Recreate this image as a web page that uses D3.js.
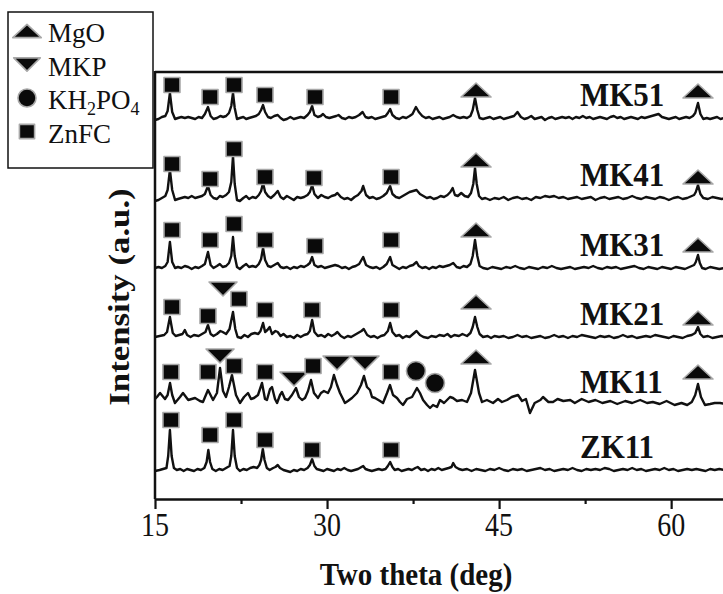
<!DOCTYPE html>
<html>
<head>
<meta charset="utf-8">
<script src="https://cdn.jsdelivr.net/npm/d3@7/dist/d3.min.js"></script>
<style>
  body { margin: 0; background: #fff; }
  svg { display: block; }
  text { font-family: "Liberation Serif", "Times New Roman", serif; fill: #111; }
</style>
</head>
<body>
<div id="chart"></div>
<script>
// sample names, top to bottom, and their stacking offsets (intensity units)
const sampleNames = ["MK51", "MK41", "MK31", "MK21", "MK11", "ZK11"];
const offsets = [381, 301, 231, 162, 94, 29];

// traces: [two theta, intensity above own baseline]
const mk51 = [[15.0,-2],[15.3,-1],[15.6,1],[15.9,2],[16.1,7],[16.3,25],[16.5,6],[16.75,-1],[17.0,0],[17.3,1],[17.6,0],[17.9,1],[18.2,0],[18.5,-1],[18.8,1],[19.1,0],[19.35,4],[19.62,11],[19.85,2],[20.1,-1],[20.4,0],[20.7,2],[20.95,1],[21.2,2],[21.45,5],[21.65,12],[21.8,25],[21.95,10],[22.15,-1],[22.4,0],[22.7,1],[22.95,-1],[23.2,0],[23.5,1],[23.8,2],[24.05,4],[24.25,8],[24.42,13],[24.6,6],[24.85,1],[25.1,0],[25.4,2],[25.7,3],[25.95,0],[26.2,-2],[26.5,-1],[26.8,1],[27.1,-1],[27.4,0],[27.7,1],[28.0,0],[28.3,3],[28.5,6],[28.7,12],[28.9,3],[29.2,1],[29.45,2],[29.65,4],[29.9,1],[30.2,0],[30.5,1],[30.8,2],[31.0,3],[31.3,0],[31.6,-1],[31.9,1],[32.2,0],[32.5,1],[32.8,3],[33.1,6],[33.35,1],[33.6,0],[33.9,1],[34.2,-1],[34.5,0],[34.8,1],[35.1,2],[35.3,5],[35.5,9],[35.7,3],[36.0,0],[36.3,-1],[36.6,1],[36.9,0],[37.2,2],[37.45,4],[37.75,11],[38.0,6],[38.3,2],[38.6,0],[38.9,1],[39.2,-1],[39.5,0],[39.8,1],[40.1,-1],[40.4,0],[40.7,1],[41.0,3],[41.3,1],[41.6,0],[41.9,1],[42.2,0],[42.5,2],[42.7,8],[42.9,20],[43.1,8],[43.3,0],[43.6,-1],[43.9,0],[44.2,1],[44.5,-1],[44.8,0],[45.1,1],[45.4,-1],[45.7,0],[46.0,1],[46.3,2],[46.6,6],[46.9,1],[47.2,-1],[47.5,0],[47.8,2],[48.1,-1],[48.4,0],[48.7,1],[49.0,-2],[49.3,0],[49.6,1],[49.9,-1],[50.2,0],[50.5,1],[50.8,0],[51.1,1],[51.4,-1],[51.7,1],[52.0,0],[52.3,2],[52.6,0],[52.9,1],[53.2,-1],[53.5,0],[53.8,1],[54.1,0],[54.4,-1],[54.7,1],[55.0,2],[55.3,0],[55.6,1],[55.9,-1],[56.2,0],[56.5,1],[56.8,0],[57.1,-1],[57.4,1],[57.7,0],[58.0,1],[58.3,2],[58.6,3],[58.9,4],[59.2,1],[59.5,0],[59.8,-1],[60.1,0],[60.4,1],[60.7,-1],[61.0,0],[61.3,1],[61.6,0],[61.9,2],[62.1,5],[62.34,15],[62.55,4],[62.8,-1],[63.1,0],[63.4,-1],[63.7,0],[64.0,1],[64.3,-1],[64.6,0],[65.0,0]];

const mk41 = [[15.0,-3],[15.3,-2],[15.6,0],[15.9,2],[16.1,8],[16.3,28],[16.5,8],[16.75,-2],[17.0,-1],[17.3,0],[17.6,1],[17.9,0],[18.2,2],[18.5,0],[18.8,1],[19.1,2],[19.35,4],[19.62,12],[19.85,3],[20.1,0],[20.4,-1],[20.65,2],[20.9,1],[21.2,3],[21.45,6],[21.65,16],[21.8,42],[21.95,14],[22.15,-2],[22.4,-3],[22.7,0],[22.95,2],[23.2,-1],[23.5,1],[23.8,0],[24.05,3],[24.25,7],[24.42,15],[24.6,6],[24.85,2],[25.1,0],[25.4,3],[25.7,7],[25.95,1],[26.2,-1],[26.5,2],[26.8,0],[27.1,-2],[27.4,1],[27.7,0],[28.0,1],[28.3,3],[28.5,6],[28.7,13],[28.9,4],[29.2,0],[29.5,3],[29.8,1],[30.1,0],[30.4,2],[30.7,3],[30.9,5],[31.2,1],[31.5,-1],[31.8,0],[32.1,-2],[32.4,1],[32.7,3],[33.0,7],[33.15,12],[33.4,3],[33.7,0],[34.0,1],[34.3,-1],[34.6,0],[34.9,2],[35.2,5],[35.5,12],[35.7,4],[36.0,1],[36.3,0],[36.6,2],[36.9,4],[37.2,6],[37.5,7],[37.8,8],[38.1,4],[38.4,2],[38.7,0],[39.0,1],[39.3,-1],[39.6,0],[39.9,2],[40.2,1],[40.5,3],[40.75,6],[40.95,10],[41.15,3],[41.4,2],[41.7,5],[42.0,2],[42.3,1],[42.55,5],[42.75,14],[42.9,30],[43.05,14],[43.25,2],[43.5,-1],[43.8,0],[44.2,-2],[44.6,0],[45.0,-1],[45.4,1],[45.8,-2],[46.2,0],[46.6,1],[47.0,-1],[47.4,0],[47.8,-2],[48.2,1],[48.6,0],[49.0,2],[49.4,1],[49.8,2],[50.2,0],[50.6,1],[51.0,-1],[51.4,0],[51.8,1],[52.2,-1],[52.6,0],[53.0,1],[53.4,-2],[53.8,0],[54.2,1],[54.6,-1],[55.0,0],[55.4,1],[55.8,-1],[56.2,0],[56.6,2],[57.0,0],[57.4,-1],[57.8,1],[58.2,0],[58.6,-1],[59.0,1],[59.4,0],[59.8,-2],[60.2,0],[60.6,1],[61.0,-1],[61.4,0],[61.8,2],[62.0,3],[62.15,6],[62.34,13],[62.55,4],[62.8,0],[63.2,-1],[63.6,1],[64.0,0],[64.4,-1],[64.8,0]];

const mk31 = [[15.0,0],[15.3,1],[15.6,0],[15.9,2],[16.1,6],[16.3,26],[16.5,6],[16.75,0],[17.0,1],[17.3,0],[17.6,2],[17.9,1],[18.2,-1],[18.5,1],[18.8,0],[19.1,2],[19.35,4],[19.62,16],[19.85,3],[20.1,0],[20.4,2],[20.65,4],[20.9,1],[21.2,2],[21.45,5],[21.65,12],[21.8,31],[21.95,12],[22.15,1],[22.4,-1],[22.7,2],[22.95,4],[23.2,1],[23.5,2],[23.8,1],[24.05,4],[24.25,9],[24.42,20],[24.6,8],[24.85,2],[25.1,1],[25.4,3],[25.7,5],[25.95,1],[26.2,0],[26.5,1],[26.8,-1],[27.1,1],[27.4,0],[27.7,2],[28.0,1],[28.3,3],[28.5,5],[28.7,11],[28.9,3],[29.2,1],[29.5,2],[29.8,0],[30.1,1],[30.4,2],[30.7,3],[31.0,2],[31.3,0],[31.6,1],[31.9,-1],[32.2,1],[32.5,2],[32.8,4],[33.0,8],[33.15,11],[33.4,3],[33.7,1],[34.0,0],[34.3,1],[34.6,-1],[34.9,1],[35.2,4],[35.5,11],[35.7,3],[36.0,1],[36.3,-1],[36.6,1],[36.9,0],[37.2,2],[37.5,3],[37.8,6],[38.0,2],[38.3,0],[38.6,1],[38.9,-1],[39.2,1],[39.5,0],[39.8,2],[40.1,1],[40.4,2],[40.7,3],[41.0,5],[41.3,1],[41.6,0],[41.9,2],[42.2,1],[42.5,4],[42.7,12],[42.9,28],[43.1,12],[43.3,2],[43.6,0],[44.0,-1],[44.4,1],[44.8,0],[45.2,-1],[45.6,1],[46.0,0],[46.4,2],[46.8,0],[47.2,-1],[47.6,1],[48.0,0],[48.4,-1],[48.8,1],[49.2,0],[49.6,2],[50.0,0],[50.4,-1],[50.8,0],[51.2,1],[51.6,-1],[52.0,0],[52.4,1],[52.8,0],[53.2,2],[53.6,0],[54.0,-1],[54.4,1],[54.8,0],[55.2,1],[55.6,-1],[56.0,0],[56.4,1],[56.8,2],[57.2,0],[57.6,-1],[58.0,1],[58.4,0],[58.8,-1],[59.2,1],[59.6,0],[60.0,-1],[60.4,1],[60.8,0],[61.2,-1],[61.6,1],[62.0,3],[62.15,6],[62.34,13],[62.5,5],[62.7,0],[63.0,-1],[63.4,1],[63.8,0],[64.2,-1],[64.6,0],[65.0,0]];

const mk21 = [[15.0,0],[15.4,1],[15.8,2],[16.05,5],[16.3,20],[16.55,4],[16.8,1],[17.1,2],[17.4,3],[17.6,7],[17.8,2],[18.1,0],[18.4,2],[18.8,1],[19.1,3],[19.4,5],[19.62,12],[19.85,3],[20.1,1],[20.4,3],[20.7,6],[20.9,5],[21.2,3],[21.5,8],[21.8,25],[22.0,8],[22.2,0],[22.5,-1],[22.8,2],[23.1,0],[23.4,3],[23.7,4],[24.0,3],[24.2,6],[24.42,14],[24.6,5],[24.8,7],[25.0,10],[25.2,3],[25.5,6],[25.7,5],[25.95,1],[26.2,3],[26.5,0],[26.8,1],[27.1,-1],[27.4,2],[27.7,0],[28.0,2],[28.3,3],[28.5,6],[28.7,17],[28.9,5],[29.2,1],[29.5,2],[29.8,0],[30.1,3],[30.4,1],[30.7,3],[30.9,5],[31.2,1],[31.5,-1],[31.8,1],[32.1,0],[32.4,2],[32.7,4],[33.0,6],[33.2,8],[33.5,2],[33.8,0],[34.1,1],[34.4,-1],[34.7,1],[35.0,2],[35.3,6],[35.5,14],[35.7,5],[36.0,1],[36.3,2],[36.6,-1],[36.9,1],[37.2,0],[37.5,3],[37.8,6],[38.1,2],[38.4,0],[38.8,-1],[39.1,1],[39.5,0],[39.8,2],[40.2,1],[40.5,3],[40.8,0],[41.1,2],[41.5,1],[41.8,3],[42.2,1],[42.5,4],[42.7,10],[42.9,20],[43.1,10],[43.3,3],[43.6,0],[44.0,1],[44.3,-1],[44.6,1],[45.0,0],[45.4,1],[45.8,-1],[46.2,0],[46.6,2],[47.0,0],[47.4,1],[47.8,-1],[48.2,0],[48.6,1],[49.0,-1],[49.4,0],[49.8,2],[50.2,0],[50.6,1],[51.0,-1],[51.4,1],[51.8,0],[52.2,2],[52.6,1],[53.0,0],[53.4,-1],[53.8,1],[54.2,0],[54.6,1],[55.0,-1],[55.4,0],[55.8,2],[56.2,0],[56.6,1],[57.0,-1],[57.4,0],[57.8,1],[58.2,0],[58.6,2],[59.0,1],[59.4,0],[59.8,-1],[60.2,1],[60.6,0],[61.0,-1],[61.4,1],[61.8,2],[62.1,4],[62.34,10],[62.55,3],[62.8,0],[63.2,1],[63.6,-1],[64.0,0],[64.4,1],[64.8,0]];

const mk11 = [[15.0,6],[15.17,8],[15.44,12],[15.87,6],[16.1,10],[16.31,22],[16.5,10],[16.74,2],[17.18,8],[17.44,12],[17.9,5],[18.49,7],[18.92,4],[19.18,3],[19.62,15],[20.06,5],[20.4,12],[20.67,37],[20.93,14],[21.19,8],[21.45,18],[21.71,30],[22.06,10],[22.41,2],[22.76,8],[23.11,12],[23.37,6],[23.63,7],[23.98,10],[24.33,22],[24.59,6],[24.76,5],[25.03,16],[25.2,18],[25.46,6],[25.64,2],[25.9,10],[26.07,13],[26.33,6],[26.6,5],[26.94,10],[27.29,17],[27.55,8],[27.82,5],[28.08,7],[28.34,14],[28.6,25],[28.86,12],[29.21,7],[29.47,12],[29.73,14],[30.08,12],[30.34,18],[30.6,30],[30.87,20],[31.13,12],[31.39,6],[31.56,2],[31.82,4],[32.17,7],[32.61,12],[32.96,20],[33.22,29],[33.48,18],[33.74,15],[33.92,8],[34.18,7],[34.62,4],[34.88,2],[35.23,12],[35.49,20],[35.75,10],[36.1,7],[36.36,3],[36.62,0],[36.97,6],[37.41,8],[37.84,17],[38.1,12],[38.37,5],[38.72,0],[38.98,-3],[39.24,0],[39.59,-2],[39.85,5],[40.2,2],[40.46,5],[40.72,8],[40.98,7],[41.33,4],[41.77,5],[42.2,3],[42.55,12],[42.9,35],[43.25,12],[43.51,3],[43.94,5],[44.47,2],[44.9,6],[45.25,3],[45.69,5],[46.1,8],[46.65,10],[47.0,4],[47.34,6],[47.69,-8],[48.1,2],[48.6,5],[48.83,8],[49.3,3],[49.7,3],[50.1,6],[50.6,4],[51.2,5],[51.6,2],[52.2,6],[52.8,3],[53.4,5],[54.0,2],[54.7,4],[55.3,1],[56.0,4],[56.6,2],[57.3,5],[57.9,2],[58.4,3],[59.0,1],[59.6,4],[60.3,0],[60.9,2],[61.4,0],[61.8,3],[62.1,10],[62.34,21],[62.6,8],[62.95,0],[63.4,1],[63.8,2],[64.26,2],[64.7,1]];

const zk11 = [[15.0,-1],[15.4,0],[15.7,1],[16.0,2],[16.15,14],[16.3,40],[16.45,14],[16.65,2],[16.9,0],[17.2,1],[17.5,-1],[17.8,1],[18.1,0],[18.4,-1],[18.7,1],[19.0,0],[19.3,2],[19.5,8],[19.65,20],[19.8,8],[20.0,1],[20.3,-1],[20.6,1],[20.9,0],[21.2,2],[21.5,4],[21.65,14],[21.8,40],[21.95,14],[22.15,2],[22.4,-1],[22.7,1],[23.0,0],[23.3,2],[23.6,3],[23.9,2],[24.1,5],[24.25,10],[24.4,21],[24.55,10],[24.75,2],[25.0,0],[25.3,2],[25.5,3],[25.7,5],[25.9,2],[26.2,0],[26.5,-1],[26.8,-2],[27.1,0],[27.4,-1],[27.7,1],[28.0,0],[28.3,2],[28.5,5],[28.7,11],[28.9,4],[29.1,1],[29.4,0],[29.7,-1],[30.0,1],[30.3,0],[30.6,-1],[30.9,1],[31.2,0],[31.5,2],[31.8,0],[32.1,-1],[32.4,0],[32.7,1],[33.0,3],[33.15,4],[33.35,1],[33.6,0],[33.9,-1],[34.2,0],[34.5,1],[34.8,0],[35.1,1],[35.3,4],[35.5,8],[35.7,3],[35.9,0],[36.2,1],[36.5,-1],[36.8,0],[37.1,1],[37.4,0],[37.7,2],[37.9,3],[38.2,0],[38.5,1],[38.8,-1],[39.1,1],[39.4,0],[39.7,2],[40.0,0],[40.3,1],[40.6,2],[40.85,3],[41.0,7],[41.2,3],[41.5,1],[41.8,0],[42.2,1],[42.6,-1],[43.0,1],[43.4,0],[43.8,-1],[44.2,1],[44.6,0],[45.0,2],[45.4,0],[45.8,-1],[46.2,1],[46.6,0],[47.0,1],[47.4,-1],[47.8,0],[48.2,1],[48.6,2],[49.0,0],[49.4,1],[49.8,-1],[50.2,0],[50.6,1],[51.0,0],[51.4,2],[51.8,0],[52.2,-1],[52.6,1],[53.0,0],[53.4,1],[53.8,0],[54.2,2],[54.6,1],[55.0,-1],[55.4,0],[55.8,1],[56.2,0],[56.6,2],[57.0,0],[57.4,1],[57.8,-1],[58.2,0],[58.6,1],[59.0,0],[59.4,2],[59.8,0],[60.2,1],[60.6,-1],[61.0,0],[61.4,1],[61.8,0],[62.2,1],[62.6,0],[63.0,-1],[63.4,1],[63.8,0],[64.2,1],[64.6,0],[65.0,0]];

const traces = [mk51, mk41, mk31, mk21, mk11, zk11];

// phase markers: [type, two theta, height above the trace baseline]
const mk51Marks = [["sq",16.48,33],["sq",19.8,21],["sq",21.89,33],["sq",24.59,23],["sq",28.95,21],["sq",35.58,21],["up",42.99,28],["up",62.34,27]];
const mk41Marks = [["sq",16.48,34],["sq",19.8,19],["sq",21.89,49],["sq",24.59,21],["sq",28.86,20],["sq",35.58,21],["up",42.99,38],["up",62.34,21]];
const mk31Marks = [["sq",16.48,38],["sq",19.8,28],["sq",21.89,44],["sq",24.59,28],["sq",28.95,22],["sq",35.58,28],["up",42.99,38],["up",62.34,23]];
const mk21Marks = [["sq",16.48,30],["sq",19.62,21],["down",20.93,48],["sq",22.32,38],["sq",24.59,27],["sq",28.69,27],["sq",35.58,27],["up",42.99,35],["up",62.34,19]];
const mk11Marks = [["sq",16.39,33],["sq",19.62,33],["down",20.67,49],["sq",21.89,39],["sq",24.59,33],["down",27.12,26],["sq",28.78,39],["down",30.87,42],["down",33.31,42],["sq",35.58,33],["circ",37.75,34],["circ",39.41,22],["up",42.99,48],["up",62.34,33]];
const zk11Marks = [["sq",16.39,50],["sq",19.8,35],["sq",21.89,50],["sq",24.59,30],["sq",28.69,20],["sq",35.58,20]];
const markers = [mk51Marks, mk41Marks, mk31Marks, mk21Marks, mk11Marks, zk11Marks];

// legend
const legendTypes = ["up", "down", "circ", "sq"];
const legendLabels = ["MgO", "MKP", "KH2PO4", "ZnFC"];

// axis ticks
const xTicks = [15, 30, 45, 60];
const xMinorTicks = [22.5, 37.5, 52.5];

const width = 723, height = 594;
const margin = { left: 155, top: 72, bottom: 95 };

const svg = d3.select("#chart").append("svg")
  .attr("width", width)
  .attr("height", height);

// scales (plot runs past the right edge of the picture)
const x = d3.scaleLinear().domain([15, 70]).range([margin.left, margin.left + 55 * 11.47]);
const y = d3.scaleLinear().domain([0, 427]).range([height - margin.bottom, margin.top]);

// frame: top line and left axis
svg.append("line")
  .attr("x1", margin.left).attr("x2", width)
  .attr("y1", margin.top).attr("y2", margin.top)
  .attr("stroke", "#111").attr("stroke-width", 2.5);
svg.append("line")
  .attr("x1", margin.left).attr("x2", margin.left)
  .attr("y1", margin.top - 1).attr("y2", y(0))
  .attr("stroke", "#111").attr("stroke-width", 2.5);

// bottom axis
const xAxis = svg.append("g")
  .attr("transform", `translate(0,${y(0)})`)
  .call(d3.axisBottom(x).tickValues(xTicks).tickSize(10).tickSizeOuter(0).tickFormat(""));
xAxis.select(".domain").attr("stroke", "#111").attr("stroke-width", 2.5);
xAxis.selectAll(".tick line").attr("stroke", "#111").attr("stroke-width", 2.2);

svg.append("g")
  .attr("transform", `translate(0,${y(0)})`)
  .call(d3.axisBottom(x).tickValues(xMinorTicks).tickSize(5).tickSizeOuter(0).tickFormat(""))
  .call(g => g.select(".domain").remove())
  .selectAll(".tick line").attr("stroke", "#111").attr("stroke-width", 2.2);

svg.append("g").selectAll("text")
  .data(xTicks)
  .join("text")
  .attr("transform", d => `translate(${x(d)},536) scale(1,1.2)`)
  .attr("text-anchor", "middle")
  .style("font-size", "28px")
  .text(d => d);

// axis titles
svg.append("text")
  .attr("transform", "translate(416,585) scale(1,1.12)")
  .attr("text-anchor", "middle")
  .style("font-size", "29px")
  .style("font-weight", "bold")
  .text("Two theta (deg)");

svg.append("text")
  .attr("transform", "translate(129,297) rotate(-90) scale(1.2,1)")
  .attr("text-anchor", "middle")
  .style("font-size", "29px")
  .style("font-weight", "bold")
  .text("Intensity (a.u.)");

// marker shapes
function drawMarker(g, type, scale) {
  const k = scale || 1;
  if (type === "sq") {
    g.append("rect").attr("x", -8 * k).attr("y", -7.5 * k)
      .attr("width", 16 * k).attr("height", 15 * k);
  } else if (type === "circ") {
    g.append("circle").attr("r", 9.5 * k);
  } else if (type === "up") {
    g.append("path").attr("d", `M0,${-7 * k}L${15 * k},${7 * k}L${-15 * k},${7 * k}Z`);
  } else {
    g.append("path").attr("d", `M${-14 * k},${-7 * k}L${14 * k},${-7 * k}L0,${7 * k}Z`);
  }
  g.selectAll("*")
    .attr("fill", "#0a0a0a")
    .attr("stroke", "#a8a8a8")
    .attr("stroke-width", 1.6)
    .attr("stroke-linejoin", "round");
}

// traces
const line = d3.line()
  .x(d => x(d[0]))
  .y(d => y(d[1]));

traces.forEach((trace, i) => {
  const base = offsets[i];
  svg.append("path")
    .datum(trace.map(d => [d[0], d[1] + base]))
    .attr("fill", "none")
    .attr("stroke", "#111")
    .attr("stroke-width", 2.4)
    .attr("stroke-linejoin", "round")
    .attr("d", line);

  markers[i].forEach(m => {
    const g = svg.append("g")
      .attr("transform", `translate(${x(m[1])},${y(base + m[2])})`);
    drawMarker(g, m[0]);
  });

  svg.append("text")
    .attr("transform", `translate(580,${y(base) - 12}) scale(1,1.12)`)
    .style("font-size", "31px")
    .style("font-weight", "bold")
    .text(sampleNames[i]);
});

// legend box
const legend = svg.append("g");
legend.append("rect")
  .attr("x", 8).attr("y", 12)
  .attr("width", 145).attr("height", 156)
  .attr("fill", "#fff")
  .attr("stroke", "#111")
  .attr("stroke-width", 1.5);

legendLabels.forEach((label, i) => {
  const rowY = 31 + i * 33.5;
  const g = legend.append("g").attr("transform", `translate(27,${rowY})`);
  drawMarker(g, legendTypes[i], 0.95);
  const t = legend.append("text")
    .attr("x", 48).attr("y", rowY + 11)
    .style("font-size", "27px");
  if (label === "KH2PO4") {
    t.append("tspan").text("KH");
    t.append("tspan").attr("dy", 6).style("font-size", "18px").text("2");
    t.append("tspan").attr("dy", -6).text("PO");
    t.append("tspan").attr("dy", 6).style("font-size", "18px").text("4");
  } else {
    t.text(label);
  }
});
</script>
</body>
</html>
